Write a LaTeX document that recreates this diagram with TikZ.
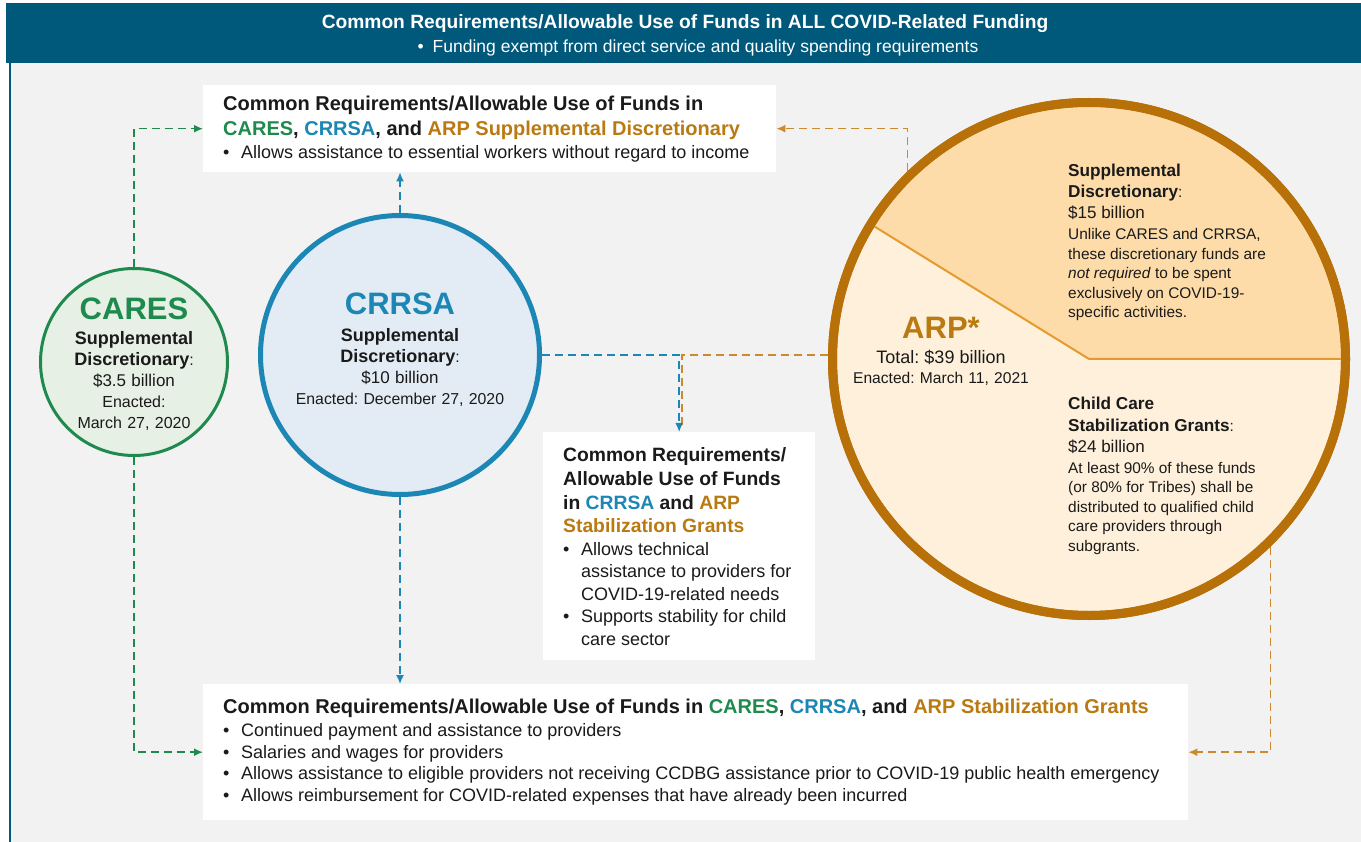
\documentclass[tikz,border=0pt]{standalone}
\usepackage{fontspec}
\setmainfont{Liberation Sans}
\usetikzlibrary{arrows.meta,calc}
\frenchspacing

\definecolor{banner}{HTML}{00587A}
\definecolor{caresgreen}{HTML}{1E8A4E}
\definecolor{crrsablue}{HTML}{1C87B4}
\definecolor{arpbrown}{HTML}{B87008}
\definecolor{arptext}{HTML}{BA7A12}
\definecolor{arpdash}{HTML}{CC8A30}
\definecolor{panel}{HTML}{F2F2F2}
\definecolor{caresfill}{HTML}{E7F0E5}
\definecolor{crrsafill}{HTML}{E3ECF5}
\definecolor{arpdark}{HTML}{FDDCA9}
\definecolor{arplight}{HTML}{FEF0DB}
\definecolor{arpline}{HTML}{E59A2E}
\definecolor{ink}{HTML}{1A1A1A}

\newcommand{\bul}{\makebox[18pt][l]{\textbullet}}
\newcommand{\ind}{\hspace*{18pt}}

\tikzset{
  reqbox/.style={fill=white, anchor=north west, align=flush left, inner xsep=20pt, inner ysep=0pt, text=ink},
  link/.style={line width=1.5pt, dash pattern=on 8pt off 5pt},
  tip/.style={-{Latex[length=9pt,width=8pt]}},
}

\begin{document}
\begin{tikzpicture}[x=1pt,y=-1pt]
\useasboundingbox (0,0) rectangle (1361,842);
% Background
\fill[white] (0,0) rectangle (1361,842);
\fill[panel] (10,63) rectangle (1361,842);
\draw[banner, line width=2.5pt] (10,63) -- (10,842);
% Banner
\fill[banner] (6,3) rectangle (1361,63);
\node[text=white, font=\bfseries\fontsize{19.2}{23}\selectfont] (title) at (685,24) {Common Requirements/Allowable Use of Funds in ALL COVID-Related Funding};
\node[text=white, font=\fontsize{17.5}{21}\selectfont] (subtitle) at (698,48) {\textbullet\hspace{9pt}Funding exempt from direct service and quality spending requirements};
%
% Top box
\node[reqbox, text width=533pt, minimum height=87pt, font=\fontsize{18}{23}\selectfont] (topbox) at (203,85) {{\bfseries\fontsize{20}{24}\selectfont Common Requirements/Allowable Use of Funds in\\[2pt]
\textcolor{caresgreen}{CARES}, \textcolor{crrsablue}{CRRSA}, and \textcolor{arptext}{ARP Supplemental Discretionary}}\\
\bul Allows assistance to essential workers without regard to income};
% Middle box
\node[reqbox, text width=232pt, minimum height=228pt, font=\fontsize{18}{22.5}\selectfont] (midbox) at (543,432) {{\bfseries\fontsize{19.3}{23}\selectfont Common Requirements/\\[1pt]Allowable Use of Funds\\[1pt]in \textcolor{crrsablue}{CRRSA} and \textcolor{arptext}{ARP}\\[1pt]\textcolor{arptext}{Stabilization Grants}}\\
\bul Allows technical\\
\ind assistance to providers for\\
\ind COVID-19-related needs\\
\bul Supports stability for child\\
\ind care sector};
% Bottom box
\node[reqbox, text width=945pt, minimum height=136pt, font=\fontsize{18}{21.5}\selectfont] (botbox) at (203,684) {{\bfseries\fontsize{20}{24}\selectfont Common Requirements/Allowable Use of Funds in \textcolor{caresgreen}{CARES}, \textcolor{crrsablue}{CRRSA}, and \textcolor{arptext}{ARP Stabilization Grants}}\\[1.5pt]
\bul Continued payment and assistance to providers\\
\bul Salaries and wages for providers\\
\bul Allows assistance to eligible providers not receiving CCDBG assistance prior to COVID-19 public health emergency\\
\bul Allows reimbursement for COVID-related expenses that have already been incurred};
%
% CARES circle
\node[circle, draw=caresgreen, line width=3pt, fill=caresfill, minimum size=187pt, inner sep=0pt] (cares) at (134,362) {};
\node[align=center, text width=170pt, font=\fontsize{16}{21}\selectfont, text=ink] (caresinfo) at ($(cares.center)+(0,2)$) {{\bfseries\fontsize{31}{31}\selectfont\textcolor{caresgreen}{CARES}}\\[4pt]{\bfseries\fontsize{18}{21}\selectfont Supplemental\\Discretionary}:\\{\fontsize{17}{21}\selectfont\$3.5 billion}\\Enacted:\\March 27, 2020};
% CRRSA circle
\node[circle, draw=crrsablue, line width=5pt, fill=crrsafill, minimum size=279pt, inner sep=0pt] (crrsa) at (400,355) {};
\node[align=center, text width=230pt, font=\fontsize{15.8}{21}\selectfont, text=ink] (crrsainfo) at ($(crrsa.center)+(0,-5.5)$) {{\bfseries\fontsize{31}{31}\selectfont\textcolor{crrsablue}{CRRSA}}\\[6pt]{\bfseries\fontsize{18}{21}\selectfont Supplemental\\Discretionary}:\\{\fontsize{17}{21}\selectfont\$10 billion}\\Enacted: December 27, 2020};
% ARP circle
\node[circle, draw=arpbrown, line width=9pt, fill=arplight, minimum size=513pt, inner sep=0pt] (arp) at (1089,359) {};
% ARP upper slice
\fill[arpdark] (arp.center) -- ++(148.3:252pt) arc[start angle=148.3, end angle=0, radius=252pt] -- cycle;
\draw[arpline, line width=2pt] ($(arp.center)+(148.3:252pt)$) -- (arp.center) -- ++(0:252pt);
\draw[arpbrown, line width=9pt] (arp.center) circle[radius=256.5pt];
% ARP labels
\node[align=center, text width=190pt, font=\fontsize{15.6}{20}\selectfont, text=ink] (arpinfo) at (941,351.5) {{\bfseries\fontsize{31}{31}\selectfont\textcolor{arptext}{ARP*}}\\[5pt]{\fontsize{18}{20}\selectfont Total: \$39 billion}\\Enacted: March 11, 2021};
\node[anchor=north west, align=flush left, text width=240pt, inner sep=0pt, font=\fontsize{15.4}{19.5}\selectfont, text=ink] (arpsupp) at (1068,164) {{\bfseries\fontsize{17.2}{21}\selectfont Supplemental\\[1.5pt]Discretionary}:\\[1.5pt]
{\fontsize{17}{21}\selectfont\$15 billion}\\[1.5pt]
Unlike CARES and CRRSA,\\these discretionary funds are\\\textit{not required} to be spent\\exclusively on COVID-19-\\specific activities.};
\node[anchor=north west, align=flush left, text width=240pt, inner sep=0pt, font=\fontsize{15.4}{19.5}\selectfont, text=ink] (arpgrants) at (1068,397) {{\bfseries\fontsize{17.2}{21}\selectfont Child Care\\[2pt]Stabilization Grants}:\\[2pt]
{\fontsize{17}{21}\selectfont\$24 billion}\\[1pt]
At least 90\% of these funds\\(or 80\% for Tribes) shall be\\distributed to qualified child\\care providers through\\subgrants.};
%
% CARES --> top box
\draw[link, caresgreen, tip] (cares.north) |- (topbox.west);
% CARES --> bottom box
\draw[link, caresgreen, tip] (cares.south) |- (botbox.west);
% CRRSA --> top box
\draw[link, crrsablue, tip] (crrsa.north) -- (crrsa.north |- topbox.south);
% CRRSA --> bottom box
\draw[link, crrsablue, tip] (crrsa.south) -- (crrsa.south |- botbox.north);
% ARP --> middle box
\draw[link, arpdash] (arp.west |- crrsa.east) -| ($(midbox.north)+(3,-7)$);
% CRRSA --> middle box
\draw[link, crrsablue, tip] (crrsa.east) -| (midbox.north);
% ARP --> top box
\draw[link, arpdash, tip] (arp.134) |- (topbox.east);
% ARP --> bottom box
\draw[link, arpdash, tip] (arp.-46) |- (botbox.east);
\end{tikzpicture}
\end{document}
